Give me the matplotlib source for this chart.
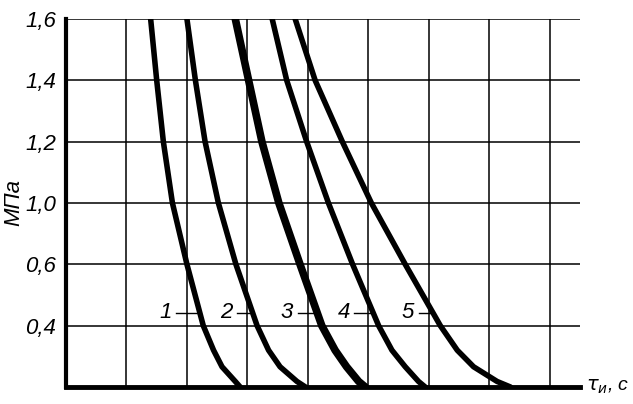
import numpy as np
import matplotlib.pyplot as plt

# grid levels (0 = axis, 6 = top line) and their labels
y_pos = [1, 2, 3, 4, 5, 6]
y_labels = ['0,4', '0,6', '1,0', '1,2', '1,4', '1,6']

# curve points: y level -> x (grid units)
lev = [6, 5, 4, 3, 2, 1, 0.6, 0.33, 0.09, 0]
c1 = [1.40, 1.50, 1.61, 1.76, 2.00, 2.27, 2.44, 2.58, 2.80, 2.88]
c2 = [2.00, 2.14, 2.30, 2.52, 2.81, 3.16, 3.35, 3.54, 3.82, 3.96]
c3 = [2.80, 3.02, 3.24, 3.52, 3.87, 4.23, 4.45, 4.64, 4.84, 4.95]
c4 = [3.41, 3.65, 3.98, 4.34, 4.74, 5.17, 5.39, 5.61, 5.83, 5.94]
c5 = [3.79, 4.12, 4.57, 5.05, 5.61, 6.19, 6.47, 6.74, 7.13, 7.35]
curves = [c1, c2, c3, c4, c5]
widths = [4, 4, 5.5, 4, 4]

# curve numbers with short leader lines to their curves
names = ['1', '2', '3', '4', '5']
name_x = [1.64, 2.65, 3.65, 4.59, 5.65]
name_y = 1.21

fnt = dict(fontsize=16, style='italic', family='Liberation Sans')

fig = plt.figure(figsize=(6.33, 4.04), dpi=100)
ax = fig.add_axes([66/633, 17/404, 514/633, 368/404])
ax.set_xlim(0, 8.5)
ax.set_ylim(0, 6)

for k in range(1, 9):
    ax.axvline(k, color='k', lw=1.1, zorder=1)
for k in y_pos:
    ax.axhline(k, color='k', lw=1.1, zorder=1)

for c, w in zip(curves, widths):
    ax.plot(c, lev, color='k', lw=w, solid_capstyle='round', zorder=3)

for n, nx, c in zip(names, name_x, curves):
    ax.text(nx, name_y, n, ha='center', va='center', **fnt)
    le = np.interp(name_y, lev[::-1], c[::-1])
    ax.plot([nx + 0.18, le], [name_y, name_y], color='k', lw=1, zorder=2)

ax.set_yticks(y_pos)
ax.set_yticklabels(y_labels, **fnt)
ax.set_xticks([])
ax.tick_params(axis='y', length=0, pad=7)
for s in ['top', 'right']:
    ax.spines[s].set_visible(False)
ax.spines['left'].set_linewidth(3)
ax.spines['bottom'].set_linewidth(3.5)

ax.set_ylabel('МПа', labelpad=1, **fnt)
fig.text(630/633, 17/404, r'$\tau_{и}$, с', va='center', ha='right',
         fontsize=14, style='italic', family='Liberation Sans')

fig.savefig('out.png', dpi=100)
